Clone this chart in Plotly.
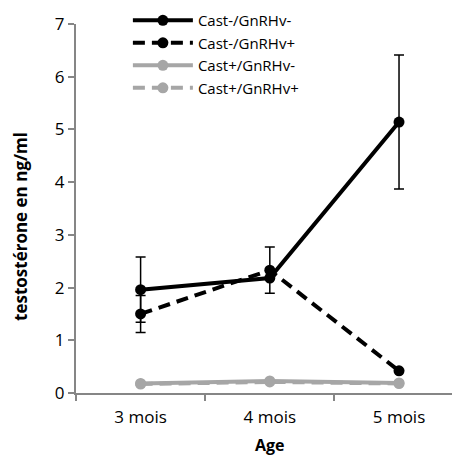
import plotly.graph_objects as go

categories = ["3 mois", "4 mois", "5 mois"]
series_names = ["Cast-/GnRHv-", "Cast-/GnRHv+", "Cast+/GnRHv-", "Cast+/GnRHv+"]
values = [
    [1.96, 2.18, 5.14],
    [1.50, 2.33, 0.42],
    [0.18, 0.23, 0.19],
    [0.17, 0.21, 0.18],
]
errors = [
    [0.62, 0.0, 1.27],
    [0.35, 0.44, 0.0],
    [0.0, 0.0, 0.0],
    [0.0, 0.0, 0.0],
]
colors = ["#000000", "#000000", "#A6A6A6", "#A6A6A6"]
dashes = ["solid", "dash", "solid", "dash"]

xpos = list(range(len(categories)))

fig = go.Figure()
for name, vals, errs, col, dsh in zip(series_names, values, errors, colors, dashes):
    fig.add_trace(go.Scatter(
        x=xpos, y=vals, name=name, mode="lines+markers",
        line=dict(color=col, width=4, dash="12px,7px" if dsh == "dash" else "solid"),
        marker=dict(color=col, size=11),
        error_y=dict(type="data", array=errs, visible=any(e > 0 for e in errs),
                     color="#000000", thickness=1.5, width=5),
    ))

axis_color = "#868686"
fig.update_layout(
    width=452, height=457,
    margin=dict(l=76, r=0, t=24, b=64, autoexpand=False),
    paper_bgcolor="white", plot_bgcolor="white",
    font=dict(family="Open Sans", color="#000000"),
    showlegend=True,
    legend=dict(x=0.138, y=1.054, xanchor="left", yanchor="top",
                font=dict(size=15), bgcolor="rgba(0,0,0,0)",
                tracegroupgap=0, itemwidth=60),
    xaxis=dict(
        range=[-0.5, 2.41], tickmode="array", tickvals=xpos, ticktext=categories,
        ticks="", showgrid=False, zeroline=False,
        showline=True, linecolor=axis_color, linewidth=2,
        tickfont=dict(size=17), ticklabelstandoff=8,
        minor=dict(tickmode="array", tickvals=[-0.5, 0.5, 1.5], ticks="outside",
                   ticklen=6, tickcolor=axis_color, tickwidth=2, showgrid=False),
    ),
    yaxis=dict(
        range=[0, 7], tickmode="linear", dtick=1, tick0=0,
        ticks="outside", ticklen=6, tickcolor=axis_color, tickwidth=2,
        showgrid=False, zeroline=False,
        showline=True, linecolor=axis_color, linewidth=2,
        tickfont=dict(size=17), ticklabelstandoff=0,
    ),
    annotations=[
        dict(text="<b>testostérone en ng/ml</b>", x=0, xref="paper", y=0.45, yref="paper",
             textangle=-90, showarrow=False, font=dict(size=17), xshift=-55,
             xanchor="center", yanchor="middle"),
        dict(text="<b>Age</b>", x=1.0, xref="x", y=0, yref="paper", showarrow=False,
             font=dict(size=16), yanchor="middle", yshift=-52),
    ],
)

fig.write_html("out.html", config={"displayModeBar": False},
               post_script="document.body.style.margin='0';document.body.style.overflow='hidden';")
